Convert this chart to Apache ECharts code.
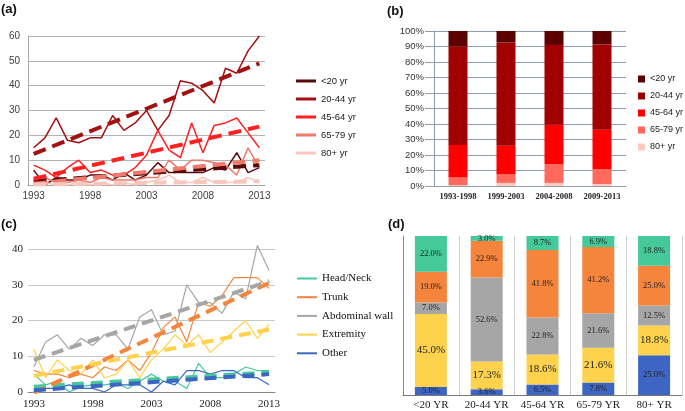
<!DOCTYPE html>
<html>
<head>
<meta charset="utf-8">
<script src="https://cdn.jsdelivr.net/npm/echarts@6/dist/echarts.min.js"></script>
<style>
  html, body { margin: 0; padding: 0; background: #fff; }
  #main { width: 685px; height: 411px; }
</style>
</head>
<body>
<div id="main"></div>
<script>
// ---- shared ----
const years = ['1993', '1994', '1995', '1996', '1997', '1998', '1999', '2000', '2001', '2002', '2003',
  '2004', '2005', '2006', '2007', '2008', '2009', '2010', '2011', '2012', '2013'];

// ---- (a) cases per year by age group ----
const ageGroups = ['<20 yr', '20-44 yr', '45-64 yr', '65-79 yr', '80+ yr'];
const ageLt20 = [6, 0, 3, 2, 2, 4, 4, 2, 5, 2, 4, 9, 5, 5, 5, 5, 7, 6, 13, 5, 7];
const age2044 = [15, 19, 27, 18, 17, 19, 19, 28, 22, 25, 30, 22, 28, 42, 41, 38, 33, 47, 45, 54, 60];
const age4564 = [8, 6, 3, 7, 10, 5, 6, 4, 4, 7, 12, 22, 14, 11, 25, 13, 24, 25, 27, 21, 15];
const age6579 = [2, 3, 1, 1, 2, 1, 3, 2, 2, 2, 3, 3, 10, 6, 10, 10, 9, 8, 4, 15, 7];
const age80 = [0, 1, 0, 0, 1, 0, 1, 0, 1, 0, 1, 2, 4, 1, 1, 3, 1, 1, 1, 3, 1];
// trend line end points (1993, 2013)
const trendStartA = [1.5, 12.5, 2.5, 0.5, 0.2];
const trendEndA = [8, 49, 23.5, 10, 1.5];

// ---- (b) share by period (%) ----
const periods = ['1993-1998', '1999-2003', '2004-2008', '2009-2013'];
const shareLt20 = [10, 7.5, 9, 8.7];
const share2044 = [63.5, 66.5, 51.5, 55];
const share4564 = [21, 18.5, 25.5, 25.5];
const share6579 = [5, 5.5, 12, 9.5];
const share80 = [0.5, 2, 2, 1.3];

// ---- (c) cases per year by site ----
const sites = ['Head/Neck', 'Trunk', 'Abdominal wall', 'Extremity', 'Other'];
const siteHead = [5, 2, 3, 0, 1.5, 2, 2, 2.5, 1, 3, 5, 3, 3, 1, 8, 4, 4, 5, 7, 6, 6];
const siteTrunk = [6, 5, 5, 4, 5, 4, 7, 6, 9, 6, 11, 18, 21, 14, 25, 24, 27, 32, 32, 32, 29];
const siteAbdominal = [7, 14, 16, 12, 15, 13, 16, 16, 12, 21, 23, 16, 17, 30, 25, 25, 22, 28, 26, 41, 34];
const siteExtremity = [12, 4, 9, 6, 5, 9, 4, 5, 9, 4, 9, 12, 16, 13, 16, 11, 14, 17, 20, 15, 19];
const siteOther = [1, 1, 1, 2, 1, 1, 0, 2, 2, 2, 0, 3, 2, 6, 6, 5, 6, 6, 4, 4, 2];
const trendStartC = [1.5, -0.2, 9, 4.5, 0.5];
const trendEndC = [5.5, 30.5, 31, 17.5, 5];

// ---- (d) site share within age group (%) ----
const ageCats = ['<20 YR', '20-44 YR', '45-64 YR', '65-79 YR', '80+ YR'];
const pctHead = [22.0, 3.0, 8.7, 6.9, 18.8];
const pctTrunk = [19.0, 22.9, 41.8, 41.2, 25.0];
const pctAbdominal = [7.0, 52.6, 22.8, 21.6, 12.5];
const pctExtremity = [45.0, 17.3, 18.6, 21.6, 18.8];
const pctOther = [5.0, 3.6, 6.5, 7.8, 25.0];

// colours
const lineColorsA = ['#5a0a0a', '#a31010', '#ff2020', '#f07a6c', '#f9c6bc'];
const barColorsB = ['#5c0000', '#a00000', '#ff0000', '#ff6a5c', '#ffcabd'];
const colorsC = ['#45c89a', '#f5843c', '#a6a6a6', '#ffd24d', '#3d66c4'];

const SANS = 'Liberation Sans';
const SERIF = 'Liberation Serif';

const chart = echarts.init(document.getElementById('main'), null, { renderer: 'canvas' });

const seriesA = [ageLt20, age2044, age4564, age6579, age80];
const seriesB = [shareLt20, share2044, share4564, share6579, share80];
const seriesC = [siteHead, siteTrunk, siteAbdominal, siteExtremity, siteOther];
const seriesD = [pctHead, pctTrunk, pctAbdominal, pctExtremity, pctOther];

const series = [];

// (a) solid lines then dashed trends
ageGroups.forEach((name, i) => {
  series.push({
    name: name, type: 'line', xAxisIndex: 0, yAxisIndex: 0,
    data: seriesA[i], symbol: 'none', clip: false,
    lineStyle: { width: 1.5, color: lineColorsA[i] },
    itemStyle: { color: lineColorsA[i] }, z: 2
  });
});
ageGroups.forEach((name, i) => {
  series.push({
    name: 'trend ' + name, type: 'line', xAxisIndex: 0, yAxisIndex: 0,
    data: [[years[0], trendStartA[i]], [years[years.length - 1], trendEndA[i]]],
    symbol: 'none',
    lineStyle: { width: 4, type: [13, 7], color: lineColorsA[i] }, z: 3
  });
});

// (b) stacked bars, bottom segment first
for (let i = ageGroups.length - 1; i >= 0; i--) {
  series.push({
    name: 'b:' + ageGroups[i], type: 'bar', xAxisIndex: 1, yAxisIndex: 1,
    stack: 'b', barWidth: 19, data: seriesB[i],
    itemStyle: { color: barColorsB[i] }
  });
}

// (c)
sites.forEach((name, i) => {
  series.push({
    name: name, type: 'line', xAxisIndex: 2, yAxisIndex: 2,
    data: seriesC[i], symbol: 'none', clip: false,
    lineStyle: { width: 1.2, color: colorsC[i] },
    itemStyle: { color: colorsC[i] }, z: 2
  });
});
sites.forEach((name, i) => {
  series.push({
    name: 'trend ' + name, type: 'line', xAxisIndex: 2, yAxisIndex: 2,
    data: [[years[0], trendStartC[i]], [years[years.length - 1], trendEndC[i]]],
    symbol: 'none',
    lineStyle: { width: 4, type: [12, 7], color: colorsC[i] }, z: 3
  });
});

// (d) 100% stacked bars, Other at the bottom
const totalsD = ageCats.map((_, j) => seriesD.reduce((s, arr) => s + arr[j], 0));
for (let i = sites.length - 1; i >= 0; i--) {
  const raw = seriesD[i];
  series.push({
    name: 'd:' + sites[i], type: 'bar', xAxisIndex: 3, yAxisIndex: 3,
    stack: 'd', barWidth: 32,
    data: raw.map((v, j) => v / totalsD[j] * 100),
    itemStyle: { color: colorsC[i] },
    label: {
      show: true, position: 'inside',
      formatter: p => raw[p.dataIndex].toFixed(1) + '%',
      fontFamily: SERIF, fontSize: i === 3 ? 11 : 8.5, color: '#222'
    }
  });
}

const option = {
  animation: false,
  backgroundColor: '#fff',
  title: [
    { text: '(a)', left: 1, top: 3, padding: 0, textStyle: { fontFamily: SANS, fontSize: 13, fontWeight: 'bold', color: '#111' } },
    { text: '(b)', left: 387, top: 5, padding: 0, textStyle: { fontFamily: SANS, fontSize: 13, fontWeight: 'bold', color: '#111' } },
    { text: '(c)', left: 1, top: 218, padding: 0, textStyle: { fontFamily: SANS, fontSize: 13, fontWeight: 'bold', color: '#111' } },
    { text: '(d)', left: 388, top: 218, padding: 0, textStyle: { fontFamily: SANS, fontSize: 13, fontWeight: 'bold', color: '#111' } }
  ],
  legend: [
    {
      data: ageGroups, orient: 'vertical', left: 291, top: 70,
      icon: 'rect', itemWidth: 20, itemHeight: 3, itemGap: 6, selectedMode: false,
      textStyle: { fontFamily: SANS, fontSize: 9.5, color: '#222', lineHeight: 12 }
    },
    {
      data: ageGroups.map(n => 'b:' + n), orient: 'vertical', left: 638, top: 73, padding: 0,
      icon: 'rect', itemWidth: 7, itemHeight: 7, itemGap: 5, selectedMode: false,
      formatter: n => n.slice(2),
      textStyle: { fontFamily: SANS, fontSize: 9, color: '#222', lineHeight: 12, overflow: 'none', width: 40 }
    },
    {
      data: sites, orient: 'vertical', left: 292, top: 267,
      icon: 'rect', itemWidth: 20, itemHeight: 2, itemGap: 5.7, selectedMode: false,
      textStyle: { fontFamily: SERIF, fontSize: 11, color: '#111', lineHeight: 13 }
    }
  ],
  grid: [
    { left: 28, top: 36, width: 237, height: 149 },
    { left: 434, top: 31, width: 192, height: 155 },
    { left: 28, top: 249, width: 247, height: 143 },
    { left: 403, top: 236, width: 279, height: 160 }
  ],
  xAxis: [
    {
      gridIndex: 0, type: 'category', data: years, boundaryGap: true,
      axisLine: { lineStyle: { color: '#a6a6a6' } },
      axisTick: { interval: 0, length: 4, lineStyle: { color: '#a6a6a6' } },
      axisLabel: { interval: 4, fontFamily: SANS, fontSize: 10, color: '#404040', margin: 6 }
    },
    {
      gridIndex: 1, type: 'category', data: periods,
      axisLine: { lineStyle: { color: '#8e9bb0' } },
      axisTick: { show: false },
      axisLabel: { interval: 0, fontFamily: SERIF, fontWeight: 'bold', fontSize: 8.5, color: '#222', margin: 6 }
    },
    {
      gridIndex: 2, type: 'category', data: years, boundaryGap: true,
      axisLine: { lineStyle: { color: '#888' } },
      axisTick: { interval: 0, length: 5, lineStyle: { color: '#888' } },
      axisLabel: { interval: 4, fontFamily: SERIF, fontSize: 11, color: '#222', margin: 7 }
    },
    {
      gridIndex: 3, type: 'category', data: ageCats,
      axisLine: { lineStyle: { color: '#777' } },
      axisTick: { show: false },
      axisLabel: { interval: 0, fontFamily: SERIF, fontSize: 11, color: '#222', margin: 5 },
      splitLine: { show: true, interval: 0, lineStyle: { color: '#d0d0d0' } }
    }
  ],
  yAxis: [
    {
      gridIndex: 0, type: 'value', min: 0, max: 60, interval: 10,
      axisLine: { show: true, lineStyle: { color: '#a6a6a6' } },
      axisTick: { show: false },
      splitLine: { lineStyle: { color: '#b3b3b3' } },
      axisLabel: { fontFamily: SANS, fontSize: 10, color: '#404040', margin: 8 }
    },
    {
      gridIndex: 1, type: 'value', min: 0, max: 100, interval: 10,
      axisLine: { show: true, lineStyle: { color: '#8e9bb0' } },
      axisTick: { show: true, length: 9, lineStyle: { color: '#8e9bb0' } },
      splitLine: { lineStyle: { color: '#8e9bb0' } },
      axisLabel: { formatter: '{value}%', fontFamily: SANS, fontSize: 9.5, color: '#333', margin: 10 }
    },
    {
      gridIndex: 2, type: 'value', min: 0, max: 40, interval: 10,
      axisLine: { show: false }, axisTick: { show: false },
      splitLine: { lineStyle: { color: '#c8c8c8' } },
      axisLabel: { fontFamily: SERIF, fontSize: 11, color: '#222', margin: 5 }
    },
    {
      gridIndex: 3, type: 'value', min: 0, max: 100,
      axisLine: { show: true, lineStyle: { color: '#888' } },
      axisTick: { show: false }, axisLabel: { show: false }, splitLine: { show: false }
    }
  ],
  series: series
};

chart.setOption(option, true);
</script>
</body>
</html>
